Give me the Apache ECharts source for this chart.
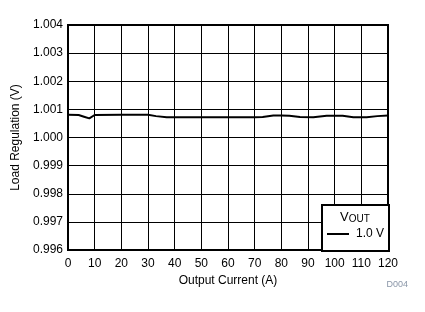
<!DOCTYPE html>
<html>
<head>
<meta charset="utf-8">
<script src="https://cdn.jsdelivr.net/npm/echarts@6/dist/echarts.min.js"></script>
<style>html,body{margin:0;padding:0;background:#fff}#c{width:425px;height:312px}</style>
</head>
<body>
<div id="c"></div>
<script>
var current = [0, 4, 6, 8, 10, 20, 30, 33, 37, 50, 60, 70, 73, 77, 80, 83, 87, 92, 97, 103, 107, 112, 116, 120];
var vout10 = [1.00081, 1.00080, 1.00074, 1.00068, 1.00080, 1.00081, 1.00081, 1.00076, 1.00072, 1.00072, 1.00072, 1.00072, 1.00073, 1.00078, 1.00078, 1.00077, 1.00073, 1.00072, 1.00077, 1.00077, 1.00072, 1.00072, 1.00076, 1.00078];
var seriesName = '1.0 V';
var xTicks = {min: 0, max: 120, interval: 10};
var yTicks = {min: 0.996, max: 1.004, interval: 0.001};

var chart = echarts.init(document.getElementById('c'), null, {renderer: 'canvas'});
var font = 'Liberation Sans, Arial, sans-serif';
chart.setOption({
  animation: false,
  backgroundColor: '#fff',
  grid: {left: 68, right: 37, top: 25, bottom: 62, show: true, borderColor: '#000', borderWidth: 2, backgroundColor: 'transparent'},
  xAxis: {
    type: 'value', min: xTicks.min, max: xTicks.max, interval: xTicks.interval,
    name: 'Output Current (A)', nameLocation: 'middle', nameGap: 23,
    nameTextStyle: {fontFamily: font, fontSize: 12, color: '#000'},
    axisLine: {show: true, lineStyle: {color: '#000', width: 2}},
    axisTick: {show: false},
    axisLabel: {fontFamily: font, fontSize: 12, color: '#000', margin: 8},
    splitLine: {show: true, lineStyle: {color: '#000', width: 1}}
  },
  yAxis: {
    type: 'value', min: yTicks.min, max: yTicks.max, interval: yTicks.interval,
    name: 'Load Regulation (V)', nameLocation: 'middle', nameGap: 42, nameRotate: 90,
    nameTextStyle: {fontFamily: font, fontSize: 12, color: '#000'},
    axisLine: {show: true, lineStyle: {color: '#000', width: 2}},
    axisTick: {show: false},
    axisLabel: {fontFamily: font, fontSize: 12, color: '#000', margin: 5, formatter: function (v) { return v.toFixed(3); }},
    splitLine: {show: true, lineStyle: {color: '#000', width: 1}}
  },
  legend: {
    show: true, left: 327, top: 228, orient: 'vertical', padding: 0,
    itemWidth: 22, itemHeight: 2, itemGap: 0, icon: 'rect',
    textStyle: {fontFamily: font, fontSize: 12, color: '#000', padding: [0, 0, 0, 2]},
    data: [{name: seriesName, icon: 'rect'}],
    z: 20
  },
  graphic: [
    {type: 'rect', left: 321, top: 204, z: 10, shape: {width: 67, height: 46}, style: {fill: '#fff', stroke: '#000', lineWidth: 2}},
    {type: 'text', left: 340, top: 211, z: 11, style: {text: '{v|V}{s|OUT}', rich: {
      v: {fontSize: 13, fontFamily: font, color: '#000', verticalAlign: 'bottom', lineHeight: 14},
      s: {fontSize: 10, fontFamily: font, color: '#000', verticalAlign: 'bottom', lineHeight: 14, padding: [0, 0, 0, 0]}
    }}},
    {type: 'text', right: 17, top: 280, z: 11, style: {text: 'D004', font: '9px ' + font, fill: '#8a96a8'}}
  ],
  series: [{
    name: seriesName, type: 'line', showSymbol: false, smooth: false,
    data: current.map(function (x, i) { return [x, vout10[i]]; }),
    lineStyle: {color: '#000', width: 2}, itemStyle: {color: '#000'}, z: 5
  }]
});
</script>
</body>
</html>
